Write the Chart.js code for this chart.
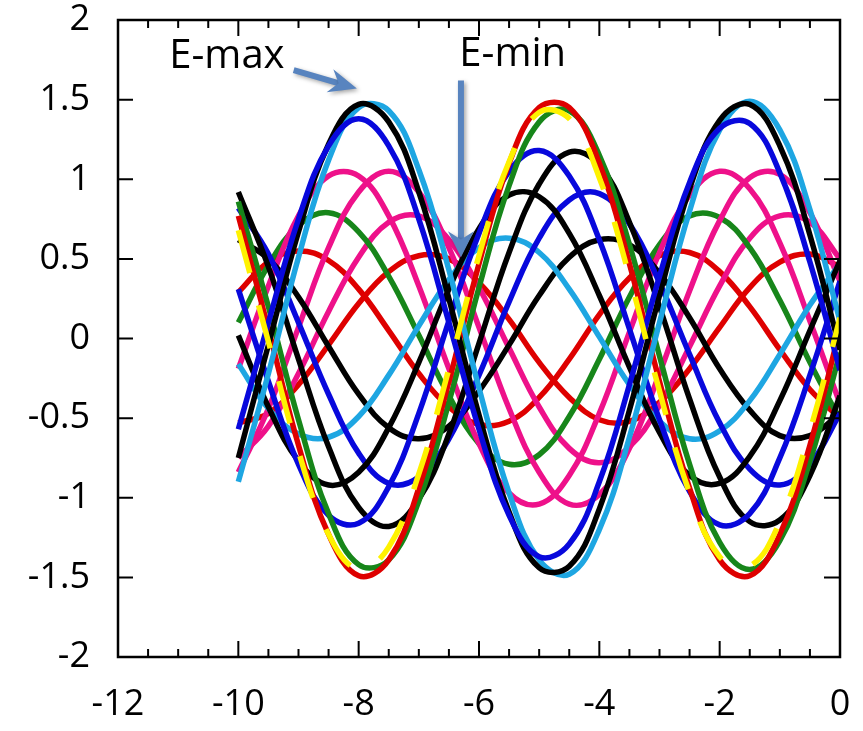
<!DOCTYPE html>
<html>
<head>
<meta charset="utf-8">
<script src="https://cdn.jsdelivr.net/npm/chart.js@4/dist/chart.umd.min.js"></script>
<style>
html,body{margin:0;padding:0;background:#ffffff;}
#wrap{width:863px;height:731px;}
</style>
</head>
<body>
<div id="wrap"><canvas id="c" width="863" height="731"></canvas></div>
<script>
// ---- data ----
const xValues = [-10,-9.5,-9,-8.5,-8,-7.5,-7,-6.5,-6,-5.5,-5,-4.5,-4,-3.5,-3,-2.5,-2,-1.5,-1,-0.5,0];

const xTickLabels = ['-12','-10','-8','-6','-4','-2','0'];
const yTickLabels = ['-2','-1.5','-1','-0.5','0','0.5','1','1.5','2'];

// family peaking near x = -7.9
const blackBig   = [-0.75,-0.04,0.67,1.22,1.47,1.36,0.92,0.25,-0.48,-1.09,-1.44,-1.43,-1.07,-0.45,0.27,0.94,1.37,1.47,1.21,0.65,-0.07];
const cyanBig    = [-0.90,-0.22,0.51,1.12,1.45,1.43,1.06,0.43,-0.31,-0.97,-1.39,-1.48,-1.20,-0.62,0.10,0.80,1.31,1.49,1.31,0.81,0.11];
const blueBig    = [-0.57,0.10,0.75,1.21,1.38,1.21,0.75,0.10,-0.57,-1.11,-1.37,-1.29,-0.90,-0.29,0.39,0.98,1.32,1.35,1.04,0.48,-0.20];
const pinkLeft   = [-0.19,0.33,0.77,1.02,1.02,0.77,0.33,-0.19,-0.66,-0.97,-1.04,-0.86,-0.47,0.04,0.54,0.90,1.05,0.94,0.60,0.11,-0.41];
const pinkRight  = [-0.84,-0.44,0.07,0.57,0.92,1.05,0.92,0.57,0.07,-0.44,-0.84,-1.04,-0.98,-0.69,-0.22,0.30,0.74,1.01,1.03,0.79,0.36];
const greenMid   = [0.10,0.46,0.71,0.79,0.67,0.39,0.02,-0.36,-0.66,-0.79,-0.73,-0.49,-0.13,0.26,0.59,0.77,0.76,0.57,0.24,-0.15,-0.51];
const pinkMid    = [-0.75,-0.55,-0.22,0.17,0.51,0.73,0.77,0.62,0.32,-0.06,-0.43,-0.69,-0.78,-0.68,-0.42,-0.05,0.33,0.63,0.77,0.73,0.50];
const redSmallL  = [0.29,0.48,0.55,0.49,0.31,0.05,-0.22,-0.43,-0.54,-0.52,-0.37,-0.13,0.15,0.38,0.52,0.54,0.42,0.20,-0.07,-0.32,-0.50];
const redSmallR  = [-0.53,-0.47,-0.29,-0.04,0.22,0.42,0.52,0.50,0.35,0.12,-0.15,-0.37,-0.51,-0.52,-0.40,-0.19,0.07,0.32,0.48,0.53,0.45];
// family peaking near x = -4.75
const redBig     = [0.77,0.06,-0.67,-1.23,-1.49,-1.39,-0.94,-0.27,0.47,1.10,1.45,1.45,1.10,0.47,-0.27,-0.94,-1.39,-1.49,-1.23,-0.67,0.06];
const yellowBig  = [0.68,-0.02,-0.71,-1.23,-1.45,-1.31,-0.85,-0.19,0.52,1.11,1.42,1.38,1.01,0.39,-0.33,-0.97,-1.37,-1.43,-1.15,-0.58,0.13];
const greenBig   = [0.86,0.20,-0.51,-1.10,-1.42,-1.39,-1.02,-0.40,0.32,0.96,1.36,1.43,1.15,0.59,-0.11,-0.79,-1.28,-1.45,-1.27,-0.77,-0.09];
const blueMidL   = [0.31,-0.27,-0.79,-1.11,-1.16,-0.93,-0.47,0.11,0.66,1.05,1.18,1.02,0.62,0.06,-0.51,-0.96,-1.17,-1.10,-0.75,-0.23,0.36];
const blackMidR  = [0.92,0.45,-0.13,-0.68,-1.06,-1.18,-1.01,-0.60,-0.03,0.54,0.97,1.17,1.09,0.73,0.20,-0.38,-0.87,-1.15,-1.14,-0.86,-0.36];
const blackLowL  = [0.02,-0.43,-0.77,-0.92,-0.84,-0.56,-0.15,0.31,0.69,0.90,0.89,0.66,0.27,-0.18,-0.59,-0.86,-0.91,-0.74,-0.39,0.05,0.49];
const blueLowR   = [0.82,0.53,0.10,-0.35,-0.72,-0.91,-0.87,-0.63,-0.23,0.23,0.63,0.87,0.91,0.72,0.35,-0.10,-0.53,-0.82,-0.92,-0.79,-0.47];
const cyanSmall  = [-0.16,-0.44,-0.60,-0.62,-0.49,-0.23,0.08,0.37,0.57,0.63,0.54,0.31,0.01,-0.29,-0.52,-0.63,-0.58,-0.39,-0.10,0.21,0.47];
const blackSmall = [0.62,0.50,0.26,-0.05,-0.35,-0.56,-0.63,-0.55,-0.33,-0.04,0.27,0.51,0.62,0.59,0.41,0.13,-0.19,-0.45,-0.61,-0.61,-0.47];

const annotationTexts = ['E-max','E-min'];

// ---- styling ----
const C = {
  black:'#000000', cyan:'#1ea6e2', blue:'#0808dc', pink:'#ee118a',
  green:'#17861a', red:'#de0000', yellow:'#fff200'
};

const seriesList = [
  // first = drawn on top
  {d: yellowBig,  c: C.yellow, dash:[44,34]},
  {d: blueBig,    c: C.blue},
  {d: blackBig,   c: C.black},
  {d: cyanBig,    c: C.cyan},
  {d: redBig,     c: C.red},
  {d: greenBig,   c: C.green},
  {d: blueMidL,   c: C.blue},
  {d: blackMidR,  c: C.black},
  {d: blackLowL,  c: C.black},
  {d: blueLowR,   c: C.blue},
  {d: cyanSmall,  c: C.cyan},
  {d: blackSmall, c: C.black},
  {d: pinkLeft,   c: C.pink},
  {d: pinkRight,  c: C.pink},
  {d: greenMid,   c: C.green},
  {d: pinkMid,    c: C.pink},
  {d: redSmallL,  c: C.red},
  {d: redSmallR,  c: C.red}
];

const datasets = seriesList.map(s => ({
  data: xValues.map((x, i) => ({x: x, y: s.d[i]})),
  borderColor: s.c,
  backgroundColor: s.c,
  borderWidth: 5.5,
  borderDash: s.dash || [],
  borderCapStyle: 'butt',
  borderJoinStyle: 'round',
  pointRadius: 0,
  tension: 0.4,
  fill: false
}));

const FONT = "'Open Sans', 'DejaVu Sans', sans-serif";
const ARROW = '#5884bf';

function drawArrow(ctx, x1, y1, x2, y2, L, H, w) {
  const ang = Math.atan2(y2 - y1, x2 - x1);
  const len = Math.hypot(x2 - x1, y2 - y1);
  ctx.save();
  ctx.translate(x2, y2);
  ctx.rotate(ang);
  ctx.strokeStyle = ARROW;
  ctx.fillStyle = ARROW;
  ctx.lineWidth = w;
  ctx.lineCap = 'butt';
  ctx.beginPath();
  ctx.moveTo(-len, 0);
  ctx.lineTo(-L * 0.6, 0);
  ctx.stroke();
  ctx.beginPath();
  ctx.moveTo(0, 0);
  ctx.lineTo(-L, -H);
  ctx.lineTo(-L * 0.68, 0);
  ctx.lineTo(-L, H);
  ctx.closePath();
  ctx.fill();
  ctx.restore();
}

const framePlugin = {
  id: 'framePlugin',
  afterDatasetsDraw(chart) {
    const ctx = chart.ctx;
    const a = chart.chartArea;
    const xs = chart.scales.x, ys = chart.scales.y;
    ctx.save();
    ctx.strokeStyle = '#000';
    ctx.lineWidth = 2;
    ctx.beginPath();
    for (let k = 0; k <= 24; k++) {
      const v = xs.min + k * 0.5;
      const px = xs.getPixelForValue(v);
      const len = (k % 4 === 0) ? 16 : 8;
      ctx.moveTo(px, a.bottom); ctx.lineTo(px, a.bottom - len);
      ctx.moveTo(px, a.top); ctx.lineTo(px, a.top + len);
    }
    for (let k = 0; k <= 8; k++) {
      const v = ys.min + k * 0.5;
      const py = ys.getPixelForValue(v);
      ctx.moveTo(a.left, py); ctx.lineTo(a.left + 15, py);
      ctx.moveTo(a.right, py); ctx.lineTo(a.right - 16, py);
    }
    ctx.stroke();
    ctx.lineWidth = 2.5;
    ctx.strokeRect(a.left, a.top, a.right - a.left, a.bottom - a.top);

    // annotations
    ctx.fillStyle = '#000';
    ctx.font = '40px ' + FONT;
    ctx.textAlign = 'center';
    ctx.textBaseline = 'alphabetic';
    ctx.fillText(annotationTexts[0], xs.getPixelForValue(-10.19), ys.getPixelForValue(1.70));
    ctx.fillText(annotationTexts[1], xs.getPixelForValue(-5.44), ys.getPixelForValue(1.71));

    ctx.shadowColor = 'rgba(0,0,0,0.35)';
    ctx.shadowBlur = 4;
    ctx.shadowOffsetX = 2;
    ctx.shadowOffsetY = 2;
    drawArrow(ctx,
      xs.getPixelForValue(-9.08), ys.getPixelForValue(1.685),
      xs.getPixelForValue(-8.03), ys.getPixelForValue(1.57),
      28, 12, 6);
    drawArrow(ctx,
      xs.getPixelForValue(-6.30), ys.getPixelForValue(1.62),
      xs.getPixelForValue(-6.30), ys.getPixelForValue(0.51),
      26, 13, 6);
    ctx.restore();
  }
};

new Chart(document.getElementById('c'), {
  type: 'line',
  data: { datasets: datasets },
  options: {
    responsive: false,
    animation: false,
    devicePixelRatio: 1,
    layout: { padding: { top: 20, right: 23, bottom: 0, left: 0 } },
    plugins: { legend: { display: false }, tooltip: { enabled: false } },
    scales: {
      x: {
        type: 'linear',
        min: -12, max: 0,
        grid: { display: false, drawTicks: false },
        border: { display: false },
        ticks: {
          stepSize: 2,
          autoSkip: false,
          maxRotation: 0,
          padding: 30,
          color: '#000',
          font: { family: FONT, size: 36, lineHeight: 1 },
          callback: (v, i) => xTickLabels[i]
        },
        afterFit: s => { s.height = 74; s.paddingLeft = 0; s.paddingRight = 0; }
      },
      y: {
        type: 'linear',
        min: -2, max: 2,
        grid: { display: false, drawTicks: false },
        border: { display: false },
        ticks: {
          stepSize: 0.5,
          autoSkip: false,
          padding: 28,
          color: '#000',
          font: { family: FONT, size: 36, lineHeight: 1 },
          callback: (v, i) => yTickLabels[i]
        },
        afterFit: s => { s.width = 118; s.paddingTop = 0; s.paddingBottom = 0; }
      }
    }
  },
  plugins: [framePlugin]
});
</script>
</body>
</html>
